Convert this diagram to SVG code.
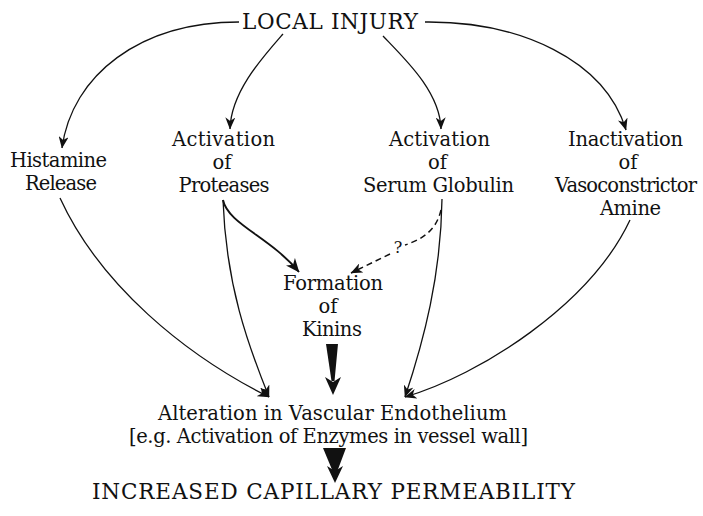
<svg xmlns="http://www.w3.org/2000/svg" width="703" height="516" viewBox="0 0 703 516">
<style>
text{font-family:"DejaVu Serif","Liberation Serif",serif;font-size:19.5px;fill:#111;text-anchor:middle}
.big{font-size:21.5px}
.q{font-size:16px}
.ln{fill:none;stroke:#111;stroke-width:1.3}
.thick{stroke-width:1.9}
.dash{stroke-dasharray:6 4;stroke-width:1.5}
.solid{fill:#111;stroke:none}
</style>
<defs>
<marker id="ah" viewBox="0 0 12 10" refX="11.5" refY="5" markerWidth="12" markerHeight="10" markerUnits="userSpaceOnUse" orient="auto">
<path d="M0,0 L12,5 L0,10 L3.5,5 Z" fill="#111"/>
</marker>
<marker id="ah2" viewBox="0 0 12 10" refX="11.5" refY="5" markerWidth="14" markerHeight="12" markerUnits="userSpaceOnUse" orient="auto">
<path d="M0,0 L12,5 L0,10 L3.5,5 Z" fill="#111"/>
</marker>
</defs>
<g id="connectors">
<path class="ln" d="M239,22 C140,22 72,75 62,148" marker-end="url(#ah)"/>
<path class="ln" d="M283,34 C262,58 231,92 230,129" marker-end="url(#ah)"/>
<path class="ln" d="M383,36 C406,60 440,92 441,129" marker-end="url(#ah)"/>
<path class="ln" d="M425,22 C520,21 605,60 626,130" marker-end="url(#ah)"/>
<path class="ln" d="M60,198 C100,285 185,355 269,397" marker-end="url(#ah)"/>
<path class="ln" d="M223,200 C226,285 248,345 269,397" marker-end="url(#ah)"/>
<path class="ln thick" d="M223,200 C228,224 270,237 299,272" marker-end="url(#ah2)"/>
<path class="ln" d="M442,199 C441,275 424,340 405,397" marker-end="url(#ah)"/>
<path class="ln" d="M630,220 C590,305 480,375 405,397" marker-end="url(#ah)"/>
<path class="ln dash" d="M441,210 C436,232 420,240 405,245"/>
<path class="ln dash" d="M390,254 L351,273" marker-end="url(#ah)"/>
<text class="q" x="398" y="253">?</text>
<path class="solid" d="M326,344 L338,344 L334.5,381 L331.5,381 Z"/>
<path class="solid" d="M333,395 L325,377 L333,382 L341,377 Z"/>
<path class="solid" d="M323,448 L346,448 L337,472 L333,472 Z"/>
<path class="solid" d="M335,483 L327,466 L335,471 L343,466 Z"/>
</g>
<g id="local-injury"><text class="big" x="330" y="29" textLength="176">LOCAL INJURY</text></g>
<g id="histamine">
<text x="58.5" y="167" textLength="97">Histamine</text>
<text x="61" y="190" textLength="72">Release</text>
</g>
<g id="proteases">
<text x="223.5" y="146" textLength="103">Activation</text>
<text x="222" y="169">of</text>
<text x="224" y="192" textLength="91">Proteases</text>
</g>
<g id="serum-globulin">
<text x="439.5" y="146" textLength="101">Activation</text>
<text x="437.5" y="169">of</text>
<text x="438.5" y="192" textLength="151">Serum Globulin</text>
</g>
<g id="vasoconstrictor">
<text x="625.5" y="146" textLength="115">Inactivation</text>
<text x="628" y="169">of</text>
<text x="626" y="192" textLength="142">Vasoconstrictor</text>
<text x="630.5" y="215" textLength="61">Amine</text>
</g>
<g id="kinins">
<text x="333" y="290" textLength="100">Formation</text>
<text x="328" y="313">of</text>
<text x="332" y="336" textLength="60">Kinins</text>
</g>
<g id="endothelium">
<text x="332.5" y="420" textLength="349">Alteration in Vascular Endothelium</text>
<text x="328.5" y="443" textLength="399">[e.g. Activation of Enzymes in vessel wall]</text>
</g>
<g id="permeability"><text class="big" x="333.5" y="499" textLength="483">INCREASED CAPILLARY PERMEABILITY</text></g>
</svg>
